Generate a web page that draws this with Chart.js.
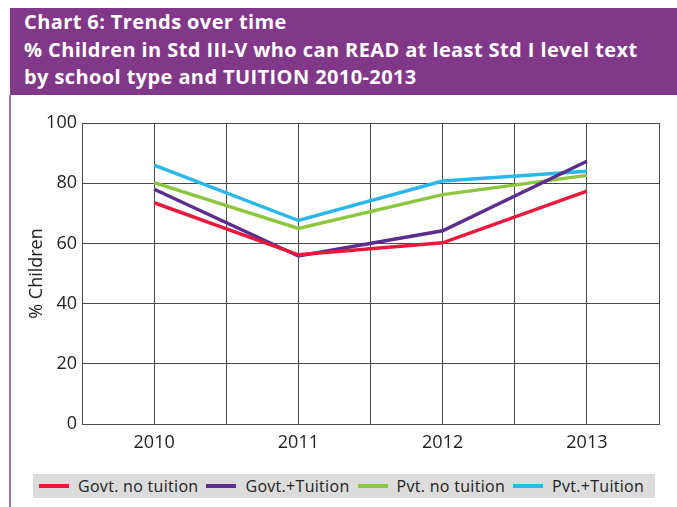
<!DOCTYPE html>
<html>
<head>
<meta charset="utf-8">
<script src="https://cdn.jsdelivr.net/npm/chart.js@4/dist/chart.umd.min.js"></script>
<style>
  html, body { margin:0; padding:0; background:#fff; }
  body { width:677px; height:507px; position:relative; overflow:hidden; font-family:"Open Sans", sans-serif; }
  #banner { position:absolute; left:10px; top:8px; width:667px; height:87px; background:#823888; color:#fff;
    font-weight:bold; font-size:20px; letter-spacing:0.4px; line-height:27.5px; box-sizing:border-box; padding:0 0 0 14px; }
  #rule { position:absolute; left:9px; top:95px; width:2px; height:412px; background:#a474ad; }
  #wrap { position:absolute; left:0; top:95px; width:677px; height:370px; }
  #legend { position:absolute; left:33px; top:474px; width:622px; height:24px; background:#dcdcdc;
    display:flex; align-items:center; font-size:16px; letter-spacing:0.3px; color:#222; box-sizing:border-box;
    padding-left:6px; white-space:nowrap; }
  .item { display:flex; align-items:center; margin-right:8px; flex-shrink:0; }
  .swatch { width:30px; height:4px; margin-right:9px; }
</style>
</head>
<body>
<div id="banner">Chart 6: Trends over time<br>% Children in Std III-V who can READ at least Std I level text<br>by school type and TUITION 2010-2013</div>
<div id="rule"></div>
<div id="wrap"><canvas id="chart"></canvas></div>
<div id="legend"></div>
<script>
const years = ['2010', '2011', '2012', '2013'];
const govtNoTuition = [73.5, 56.2, 60.2, 77.4];
const govtTuition = [78.0, 55.8, 64.2, 87.3];
const pvtNoTuition = [80.2, 65.0, 76.2, 82.6];
const pvtTuition = [86.0, 67.6, 80.7, 84.0];
const yTicks = [0, 20, 40, 60, 80, 100];

const series = [
  { label: 'Govt. no tuition', values: govtNoTuition, color: '#e8193c' },
  { label: 'Govt.+Tuition', values: govtTuition, color: '#5a2d8e' },
  { label: 'Pvt. no tuition', values: pvtNoTuition, color: '#8dc63f' },
  { label: 'Pvt.+Tuition', values: pvtTuition, color: '#2bb7ea' }
];

const font = { family: '"Open Sans", sans-serif', size: 18 };

new Chart(document.getElementById('chart'), {
  type: 'line',
  data: {
    datasets: series.map(s => ({
      label: s.label,
      data: s.values.map((v, i) => ({ x: i, y: v })),
      borderColor: s.color,
      backgroundColor: s.color,
      borderWidth: 3.5,
      pointRadius: 0,
      tension: 0,
      fill: false
    }))
  },
  options: {
    responsive: true,
    maintainAspectRatio: false,
    animation: false,
    layout: { padding: { top: 28, right: 18, left: 0, bottom: 0 } },
    plugins: { legend: { display: false }, tooltip: { enabled: false } },
    scales: {
      x: {
        type: 'linear', min: -0.5, max: 3.5,
        afterBuildTicks: ax => { ax.ticks = [-0.5,0,0.5,1,1.5,2,2.5,3,3.5].map(v => ({ value: v })); },
        afterFit: ax => { ax.height = 41; },
        grid: { color: '#4a4a4a', lineWidth: 1, drawTicks: false },
        border: { color: '#4a4a4a', width: 1 },
        ticks: {
          font, color: '#222', padding: 8, maxRotation: 0, autoSkip: false,
          callback: v => Number.isInteger(v) ? years[v] : ''
        }
      },
      y: {
        min: 0, max: 100,
        afterBuildTicks: ax => { ax.ticks = yTicks.map(v => ({ value: v })); },
        afterFit: ax => { ax.width = 82; },
        grid: { color: '#4a4a4a', lineWidth: 1, drawTicks: false },
        border: { color: '#4a4a4a', width: 1 },
        ticks: { font, color: '#222', padding: 5 },
        title: { display: true, text: '% Children', font, color: '#222', padding: { top: 26, bottom: 0 } }
      }
    }
  }
});

const legend = document.getElementById('legend');
series.forEach(s => {
  const item = document.createElement('div');
  item.className = 'item';
  item.innerHTML = '<span class="swatch" style="background:' + s.color + '"></span><span>' + s.label + '</span>';
  legend.appendChild(item);
});
</script>
</body>
</html>
